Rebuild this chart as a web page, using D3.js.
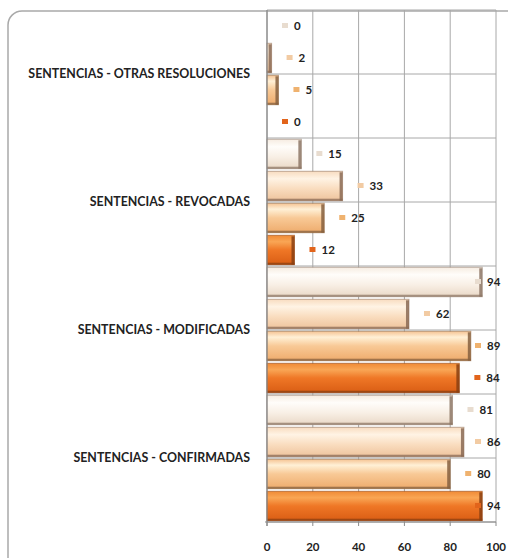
<!DOCTYPE html>
<html>
<head>
<meta charset="utf-8">
<script src="https://cdn.jsdelivr.net/npm/d3@7"></script>
<style>
  html, body { margin: 0; padding: 0; background: #ffffff; }
  svg { display: block; }
</style>
</head>
<body>
<svg id="chart" width="508" height="558"></svg>
<script>
// Categories, top to bottom
const categories = [
  "SENTENCIAS - OTRAS RESOLUCIONES",
  "SENTENCIAS - REVOCADAS",
  "SENTENCIAS - MODIFICADAS",
  "SENTENCIAS - CONFIRMADAS"
];
// Four series per category (drawn top to bottom inside each group)
const serie1 = [0, 15, 94, 81];
const serie2 = [2, 33, 62, 86];
const serie3 = [5, 25, 89, 80];
const serie4 = [0, 12, 84, 94];
const seriesValues = [serie1, serie2, serie3, serie4];
const xTicks = [0, 20, 40, 60, 80, 100];

// Bar gradients per series: [offset, color]
const seriesGradients = [
  [[0, "#f6ece1"], [0.25, "#fffdfa"], [0.6, "#f8efe5"], [1, "#e9d8c6"]],
  [[0, "#f8dcc0"], [0.25, "#fff3e4"], [0.6, "#f9dcbe"], [1, "#eec39c"]],
  [[0, "#f5c393"], [0.2, "#fff0d6"], [0.5, "#f8c996"], [1, "#eeab6c"]],
  [[0, "#f08a36"], [0.22, "#f9a655"], [0.5, "#ef7726"], [1, "#d95d14"]]
];
const seriesEdge = ["#8d7766", "#8a6a55", "#86603f", "#8a3f12"];
const seriesKey = ["#e8dccf", "#f2cba3", "#efb26f", "#e2641b"];

const svg = d3.select("#chart");
const defs = svg.append("defs");
seriesGradients.forEach((stops, i) => {
  const g = defs.append("linearGradient")
    .attr("id", "grad" + i)
    .attr("x1", 0).attr("y1", 0).attr("x2", 0).attr("y2", 1);
  stops.forEach(s => g.append("stop").attr("offset", s[0]).attr("stop-color", s[1]));
});

// Chart frame
svg.append("rect")
  .attr("x", 8).attr("y", 11)
  .attr("width", 540).attr("height", 580)
  .attr("rx", 14)
  .attr("fill", "#ffffff")
  .attr("stroke", "#a9a9a9")
  .attr("stroke-width", 1.5);

const plot = { left: 267, right: 496, top: 10, bottom: 522 };

const x = d3.scaleLinear().domain([0, 100]).range([plot.left, plot.right]);
const y = d3.scaleBand().domain(categories).range([plot.top, plot.bottom]).padding(0);
const yInner = d3.scaleBand().domain(d3.range(seriesValues.length))
  .range([0, y.bandwidth()]).paddingInner(0.08).paddingOuter(0.04);

// Gridlines
const grid = svg.append("g");
grid.selectAll("line.v").data(xTicks).join("line")
  .attr("class", "v")
  .attr("x1", d => x(d)).attr("x2", d => x(d))
  .attr("y1", plot.top).attr("y2", plot.bottom)
  .attr("stroke", "#a8a8a8").attr("stroke-width", 1);
const halfLines = d3.range(0, categories.length * 2 + 1).map(k => plot.top + k * y.bandwidth() / 2);
grid.selectAll("line.h").data(halfLines).join("line")
  .attr("class", "h")
  .attr("x1", plot.left).attr("x2", plot.right)
  .attr("y1", d => d).attr("y2", d => d)
  .attr("stroke", "#a8a8a8").attr("stroke-width", 1);

// Bars
const groups = svg.append("g").selectAll("g").data(categories).join("g")
  .attr("transform", d => `translate(0,${y(d)})`);

groups.each(function(cat, ci) {
  const g = d3.select(this);
  seriesValues.forEach((vals, si) => {
    const v = vals[ci];
    const by = yInner(si);
    const bh = yInner.bandwidth();
    const w = x(v) - x(0);
    if (w > 0) {
      g.append("rect")
        .attr("x", x(0)).attr("y", by)
        .attr("width", w).attr("height", bh)
        .attr("fill", `url(#grad${si})`)
        .attr("stroke", seriesEdge[si]).attr("stroke-opacity", 0.55)
        .attr("stroke-width", 1);
      // darker bottom edge
      g.append("rect")
        .attr("x", x(0)).attr("y", by + bh - 2)
        .attr("width", w).attr("height", 2)
        .attr("fill", seriesEdge[si]).attr("opacity", 0.75);
      // dark end cap
      g.append("rect")
        .attr("x", x(v) - Math.min(3, w)).attr("y", by + 1)
        .attr("width", Math.min(3, w)).attr("height", bh - 1)
        .attr("fill", seriesEdge[si]).attr("opacity", 0.85);
    }
    // value label with a small key marker
    const tx = Math.min(x(v) + 27, 487);
    const cy = by + bh / 2;
    g.append("rect")
      .attr("x", tx - 12).attr("y", cy - 3)
      .attr("width", 6).attr("height", 5)
      .attr("fill", seriesKey[si]);
    g.append("text")
      .attr("x", tx).attr("y", cy)
      .attr("dy", "0.36em")
      .attr("font-family", "Lato, 'Open Sans', sans-serif")
      .attr("font-weight", 700)
      .attr("font-size", 11.5)
      .attr("fill", "#222222")
      .text(v);
  });
});

// Axis frame lines
svg.append("line")
  .attr("x1", plot.left).attr("x2", plot.left)
  .attr("y1", plot.top).attr("y2", plot.bottom + 4)
  .attr("stroke", "#8a8a8a").attr("stroke-width", 1.2);
svg.append("line")
  .attr("x1", plot.left - 2).attr("x2", plot.right)
  .attr("y1", plot.bottom).attr("y2", plot.bottom)
  .attr("stroke", "#8a8a8a").attr("stroke-width", 1.2);

// X axis ticks and labels
const xAxis = svg.append("g");
xAxis.selectAll("line").data(xTicks).join("line")
  .attr("x1", d => x(d)).attr("x2", d => x(d))
  .attr("y1", plot.bottom).attr("y2", plot.bottom + 4)
  .attr("stroke", "#8a8a8a");
xAxis.selectAll("text").data(xTicks).join("text")
  .attr("x", d => x(d)).attr("y", 551)
  .attr("text-anchor", "middle")
  .attr("font-family", "Lato, 'Open Sans', sans-serif")
  .attr("font-weight", 700)
  .attr("font-size", 11.5)
  .attr("fill", "#222222")
  .text(d => d);

// Category labels
svg.append("g").selectAll("text").data(categories).join("text")
  .attr("x", 250)
  .attr("y", d => y(d) + y.bandwidth() / 2)
  .attr("dy", "0.35em")
  .attr("text-anchor", "end")
  .attr("font-family", "Lato, 'Open Sans', sans-serif")
  .attr("font-weight", 700)
  .attr("font-size", 12.4)
  .attr("fill", "#222222")
  .text(d => d);
</script>
</body>
</html>
